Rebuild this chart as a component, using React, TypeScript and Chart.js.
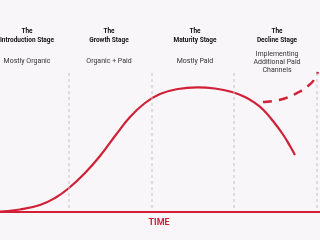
import React, { useEffect, useRef } from "react";
import { Chart, registerables } from "chart.js";

Chart.register(...registerables);

// Time positions and sales level of the product life-cycle curve
const lifecycleTime = [0, 20, 40, 55, 69, 85, 100, 115, 130, 145, 160, 178, 197, 215, 232, 245, 255, 263, 273, 283, 290, 295];
const lifecycleLevel = [0.3, 2.5, 7, 14, 24, 39, 56, 76, 95, 109, 118, 123, 124.7, 123.5, 120, 115, 109, 102.5, 91, 77.5, 66, 57];

// Recovery path when extra paid channels are added
const recoveryTime = [263, 273, 286, 298, 308, 314, 318];
const recoveryLevel = [110, 111, 114, 119.5, 126, 132, 140];

// Stage boundaries along the time axis
const stageBounds = [69, 152, 234, 317];
const boundLow = 4;
const boundHigh = 140;

// Stage headings and notes
const stageCenters = [27, 109, 195, 277];
const stageTitles = [
  ["The", "Introduction Stage"],
  ["The", "Growth Stage"],
  ["The", "Maturity Stage"],
  ["The", "Decline Stage"],
];
const stageNotes = [
  ["Mostly Organic"],
  ["Organic + Paid"],
  ["Mostly Paid"],
  ["Implementing", "Additional Paid", "Channels"],
];
const axisLabel = "TIME";

const RED = "#d01f36";

const stageText = {
  id: "stageText",
  afterDatasetsDraw(chart: any) {
    const { ctx } = chart;
    const xs = chart.scales.x;
    const ys = chart.scales.y;
    ctx.save();
    ctx.textAlign = "center";
    ctx.textBaseline = "middle";
    stageTitles.forEach((lines, i) => {
      const cx = xs.getPixelForValue(stageCenters[i]);
      ctx.fillStyle = "#111111";
      ctx.font = "bold 6.5px Roboto";
      lines.forEach((t, j) => ctx.fillText(t, cx, 31.5 + j * 8.8));
      ctx.fillStyle = "#333333";
      ctx.font = "7px Roboto";
      const notes = stageNotes[i];
      const top = notes.length > 1 ? 54 : 61;
      notes.forEach((t, j) => ctx.fillText(t, cx, top + j * 8.2));
    });
    ctx.fillStyle = RED;
    ctx.font = "bold 9px Roboto";
    ctx.fillText(axisLabel, xs.getPixelForValue(159), ys.getPixelForValue(-11));
    ctx.restore();
  },
};

export default function App() {
  const ref = useRef<HTMLCanvasElement | null>(null);

  useEffect(() => {
    document.body.style.margin = "0";
    const boundSets = stageBounds.map((b) => ({
      data: [
        { x: b, y: boundLow },
        { x: b, y: boundHigh },
      ],
      borderColor: "#c4c2c6",
      borderWidth: 1,
      borderDash: [3, 3],
      pointRadius: 0,
      tension: 0,
    }));
    const chart = new Chart(ref.current as HTMLCanvasElement, {
      type: "line",
      data: {
        datasets: [
          ...boundSets,
          {
            data: [
              { x: 0, y: 0 },
              { x: 320, y: 0 },
            ],
            borderColor: RED,
            borderWidth: 2,
            pointRadius: 0,
            tension: 0,
          },
          {
            data: lifecycleTime.map((t, i) => ({ x: t, y: lifecycleLevel[i] })),
            borderColor: RED,
            borderWidth: 2.2,
            pointRadius: 0,
            tension: 0.45,
          },
          {
            data: recoveryTime.map((t, i) => ({ x: t, y: recoveryLevel[i] })),
            borderColor: RED,
            borderWidth: 2.4,
            borderDash: [9, 7],
            pointRadius: 0,
            tension: 0.45,
          },
        ] as any,
      },
      options: {
        animation: false,
        responsive: false,
        layout: { padding: 0 },
        plugins: { legend: { display: false }, tooltip: { enabled: false } },
        scales: {
          x: { type: "linear", min: 0, max: 320, display: false },
          y: { type: "linear", min: -28, max: 212, display: false },
        },
      },
      plugins: [stageText],
    });
    return () => chart.destroy();
  }, []);

  return (
    <div style={{ width: 320, height: 240, background: "#f8f6f9" }}>
      <canvas ref={ref} width={320} height={240} style={{ display: "block" }} />
    </div>
  );
}
